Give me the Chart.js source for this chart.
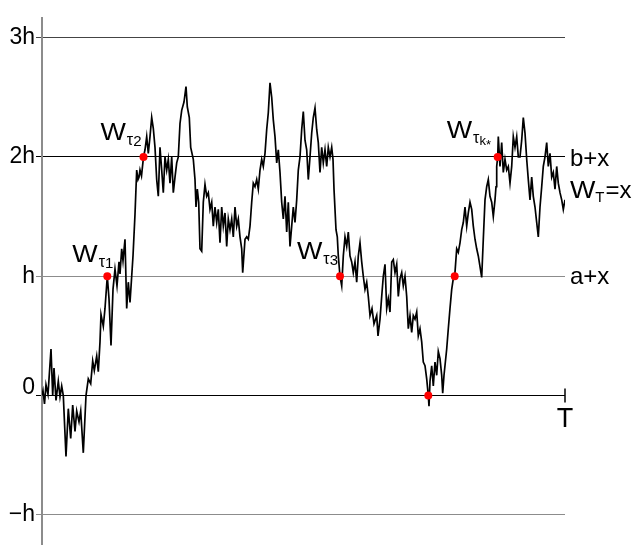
<!DOCTYPE html>
<html>
<head>
<meta charset="utf-8">
<title>Brownian path with hitting times</title>
<script src="https://cdn.jsdelivr.net/npm/chart.js@4.4.1/dist/chart.umd.min.js"></script>
<style>
  html, body { margin: 0; padding: 0; background: #fff; }
  #chart { display: block; }
</style>
</head>
<body>
<canvas id="chart" width="640" height="548"></canvas>
<script>
// path of W_t : time in steps (T = 523), value in units of h
const T = 523;
const times = [
  0, 1, 2.5, 4, 6, 9, 10.7, 12, 14, 16.3,
  18, 19.7, 21.3, 24, 26.3, 28.7, 30.7, 33, 34.7, 37,
  38.7, 41.3, 44, 46.3, 48.7, 50.7, 52.3, 54.7, 56.3, 58,
  59, 61.3, 63, 65.3, 67, 69, 71, 73, 75, 77,
  78, 79.7, 81, 83, 84.7, 86.3, 88, 89.7, 91, 93,
  94.7, 96, 97, 98, 99.5, 101.5, 103, 104.7, 106.3, 108,
  109.7, 111.3, 113, 114.7, 116.3, 118, 119.7, 121.3, 123, 124.7,
  126.3, 128, 129.7, 131.3, 133, 134.7, 136.3, 138, 139.7, 142,
  144, 145.3, 147.3, 148.7, 151.3, 153, 154, 155.3, 156.7, 158,
  159.7, 161.3, 163, 164.7, 166.3, 168, 169.7, 171.3, 173, 174.7,
  176.3, 178, 179.7, 181.3, 183, 184.7, 186.3, 188, 189.7, 191.3,
  193, 194.7, 196.3, 198, 199.7, 200.7, 203, 204.7, 206.3, 208,
  209.7, 211.3, 213, 214.7, 216.3, 218, 219.7, 221.3, 223, 224.7,
  226.3, 228, 229.7, 231.3, 233, 234.7, 236.3, 238, 239.7, 241.3,
  243, 244.7, 246.3, 248, 249.7, 251.3, 253, 254.7, 256.3, 258,
  259.7, 261.3, 263, 264.7, 266.3, 268, 269.7, 271.3, 273, 274.7,
  276.3, 278, 279.7, 281.3, 283, 284.7, 286.3, 288, 289.7, 291,
  292, 294, 295.3, 296.3, 298, 299.7, 301.3, 303, 304.7, 306.3,
  308, 309.7, 311.3, 313, 314.7, 316.3, 318, 319.7, 321.3, 323,
  324.7, 326.3, 328, 330, 332, 334.7, 336, 338, 339.7, 341.3,
  343, 344.7, 346.3, 348, 349.7, 351.3, 353, 354.7, 356.3, 358,
  359.7, 361.3, 363, 364.7, 366.3, 368, 369.7, 371.3, 373, 374.7,
  376.3, 378, 379.7, 381.3, 383, 384.7, 386.3, 387, 388, 389.7,
  391.3, 393, 394.7, 396.3, 398, 399.7, 400.7, 402, 404.7, 406.3,
  408, 409.7, 411.3, 412.7, 414.7, 416.3, 418, 419.7, 421.3, 423,
  424.7, 426.3, 428, 429.7, 431.3, 433, 434.7, 436.3, 438, 439.7,
  441.3, 443, 444.7, 446.3, 448, 449.7, 451.3, 453, 454, 454.7,
  455.7, 456.3, 458, 459.7, 461.3, 463, 464.7, 466.3, 468, 469.7,
  471.3, 473, 474.7, 476.3, 478, 479.7, 481.3, 483, 484.7, 486.3,
  488, 489.7, 491.3, 493, 494.7, 496.3, 498, 499.7, 501.3, 503,
  504.7, 506.3, 508, 509.7, 511.3, 513, 514.7, 516.3, 518, 519.7,
  521.3, 523
];
const values = [
  0, 0.04, -0.07, 0.09, 0.01, 0.39, 0, 0.23, -0.04, 0.12,
  -0.01, 0.08, 0, -0.51, -0.11, -0.36, -0.08, -0.30, -0.13, -0.22,
  -0.13, -0.48, 0, 0.14, 0.10, 0.29, 0.21, 0.33, 0.20, 0.45,
  0.68, 0.58, 0.73, 1.00, 0.81, 0.42, 0.89, 1.06, 0.92, 1.12,
  1.02, 1.23, 1.13, 1.31, 0.73, 0.95, 0.78, 1.00, 1.17, 1.52,
  1.89, 1.81, 1.83, 1.89, 1.84, 2.00, 2.06, 2.17, 2.03, 2.17,
  2.33, 2.24, 2.08, 1.81, 1.67, 2.08, 1.89, 1.70, 2.00, 1.89,
  1.98, 1.78, 2.00, 1.70, 1.83, 1.95, 2.00, 2.28, 2.39, 2.46,
  2.59, 2.42, 2.33, 2.08, 1.98, 1.81, 1.58, 1.73, 1.62, 1.23,
  1.21, 1.62, 1.77, 1.67, 1.70, 1.56, 1.62, 1.42, 1.58, 1.45,
  1.56, 1.28, 1.58, 1.42, 1.53, 1.25, 1.48, 1.39, 1.48, 1.33,
  1.58, 1.42, 1.48, 1.33, 1.23, 1.03, 1.31, 1.33, 1.31, 1.42,
  1.62, 1.78, 1.75, 1.81, 1.73, 1.89, 1.98, 1.92, 2.03, 2.23,
  2.37, 2.62, 2.50, 2.31, 2.17, 1.95, 2.06, 1.87, 1.62, 1.48,
  1.67, 1.37, 1.62, 1.25, 1.42, 1.58, 1.45, 1.64, 1.89, 2.00,
  2.23, 2.38, 2.14, 2.06, 1.81, 2.00, 2.20, 2.33, 2.41, 2.23,
  2.12, 1.87, 2.08, 1.95, 2.06, 1.92, 2.08, 2.00, 2.08, 1.98,
  1.73, 1.39, 1.33, 1.17, 1.00, 0.92, 1.17, 1.33, 1.25, 1.37,
  1.17, 1.12, 1.03, 1.12, 0.95, 1.17, 1.28, 1.12, 1.00, 0.89,
  0.95, 0.83, 0.67, 0.73, 0.60, 0.67, 0.50, 0.64, 0.83, 1.00,
  1.10, 0.73, 0.81, 0.70, 1.12, 1.14, 1.03, 1.10, 0.83, 0.98,
  1.03, 0.92, 1.00, 0.83, 0.56, 0.67, 0.53, 0.67, 0.64, 0.70,
  0.50, 0.56, 0.45, 0.28, 0.25, 0.14, 0.00, -0.09, 0.12, 0.25,
  0.08, 0.28, 0.17, 0.37, 0.31, 0.17, 0.02, 0.17, 0.39, 0.56,
  0.73, 0.89, 0.98, 1.00, 1.23, 1.20, 1.28, 1.39, 1.45, 1.58,
  1.42, 1.53, 1.62, 1.56, 1.42, 1.31, 1.23, 1.17, 1.08, 0.99,
  1.31, 1.64, 1.75, 1.81, 1.67, 1.62, 1.50, 1.64, 1.75, 1.92,
  2.00, 2.17, 1.92, 2.12, 1.87, 1.98, 1.89, 1.92, 1.78, 1.92,
  2.17, 2.08, 2.17, 2.00, 2.00, 2.14, 2.33, 2.20, 1.98, 1.81,
  1.64, 1.83, 1.67, 1.58, 1.45, 1.33, 1.58, 1.75, 1.92, 2.00,
  2.12, 1.92, 2.03, 1.83, 1.87, 1.73, 1.92, 1.78, 1.70, 1.64,
  1.56, 1.64
];

// hitting times (red dots) and the level hit
const hitTimes = [65.3, 101.5, 298, 386.3, 412.7, 455.7];
const hitLevels = [1, 2, 1, 0, 1, 2];
const hitIndex = ['1', '2', '3', '', '', 'k*'];

// horizontal levels
const levelTicks = [-1, 0, 1, 2, 3];
const levelLabels = ['\u2212h', '0', 'h', '2h', '3h'];
const levelColors = ['#8c8c8c', '#000000', '#8c8c8c', '#000000', '#444444'];

const FONT = '"Liberation Sans", Arial, Helvetica, sans-serif';

if (times.length !== values.length) console.error('length mismatch', times.length, values.length);

function drawW(ctx, x, y, idx) {
  ctx.font = '24px ' + FONT;
  ctx.save();
  ctx.translate(x, y);
  ctx.scale(1.12, 1);
  ctx.fillText('W', 0, 0);
  ctx.restore();
  x += ctx.measureText('W').width * 1.12 + 1;
  ctx.font = '16px ' + FONT;
  ctx.fillText('\u03c4', x, y + 5);
  x += ctx.measureText('\u03c4').width;
  if (idx === 'k*') {
    ctx.font = '13px ' + FONT;
    ctx.fillText('k', x, y + 7);
    x += ctx.measureText('k').width;
    ctx.fillText('*', x, y + 11);
  } else {
    ctx.font = '15px ' + FONT;
    ctx.fillText(idx, x, y + 6);
  }
}

const annotate = {
  id: 'annotate',
  afterDatasetsDraw(chart) {
    const { ctx, chartArea } = chart;
    const xs = chart.scales.x, ys = chart.scales.y;
    ctx.save();
    ctx.fillStyle = '#000';
    ctx.textAlign = 'left';
    ctx.textBaseline = 'alphabetic';

    // W_tau labels next to the hitting points
    const offs = [[-35, -14], [-43, -17], [-43, -17], null, null, [-51, -19]];
    hitTimes.forEach((t, i) => {
      if (!hitIndex[i]) return;
      const px = xs.getPixelForValue(t) + offs[i][0];
      const py = ys.getPixelForValue(hitLevels[i]) + offs[i][1];
      drawW(ctx, px, py, hitIndex[i]);
    });

    // right hand labels
    const rx = chartArea.right + 5;
    ctx.font = '24px ' + FONT;
    ctx.fillText('b+x', rx, ys.getPixelForValue(2) + 9);
    ctx.fillText('a+x', rx, ys.getPixelForValue(1) + 8);

    const yEnd = ys.getPixelForValue(values[values.length - 1]) - 2;
    ctx.save();
    ctx.translate(rx, yEnd);
    ctx.scale(1.12, 1);
    ctx.fillText('W', 0, 0);
    ctx.restore();
    let cx = rx + ctx.measureText('W').width * 1.12;
    ctx.font = '15px ' + FONT;
    ctx.fillText('T', cx, yEnd + 4);
    cx += ctx.measureText('T').width + 1;
    ctx.font = '24px ' + FONT;
    ctx.fillText('=x', cx, yEnd);

    // end of time axis
    const y0 = ys.getPixelForValue(0);
    const xT = xs.getPixelForValue(T);
    ctx.strokeStyle = '#000';
    ctx.lineWidth = 1.5;
    ctx.beginPath();
    ctx.moveTo(xT, y0 - 7);
    ctx.lineTo(xT, y0 + 7);
    ctx.stroke();
    ctx.font = '27px ' + FONT;
    ctx.textAlign = 'center';
    ctx.fillText('T', xT, y0 + 31);
    ctx.restore();
  }
};

const ctx = document.getElementById('chart').getContext('2d');
const chart = new Chart(ctx, {
  type: 'line',
  data: {
    datasets: [
      {
        type: 'scatter',
        data: hitTimes.map((t, i) => ({ x: t, y: hitLevels[i] })),
        backgroundColor: '#ff0000',
        borderWidth: 0,
        pointRadius: 4,
        order: 0
      },
      {
        data: times.map((t, i) => ({ x: t, y: values[i] })),
        borderColor: '#000000',
        borderWidth: 1.7,
        pointRadius: 0,
        tension: 0,
        fill: false,
        order: 1
      }
    ]
  },
  options: {
    responsive: false,
    animation: false,
    layout: { padding: { left: 0, right: 75, top: 18, bottom: 2 } },
    plugins: { legend: { display: false }, tooltip: { enabled: false } },
    scales: {
      x: { type: 'linear', min: 0, max: T, display: false },
      y: {
        type: 'linear',
        min: -1.244,
        max: 3.164,
        afterBuildTicks: s => { s.ticks = levelTicks.map(v => ({ value: v })); },
        afterFit: s => { s.width = 42; s.paddingTop = 0; s.paddingBottom = 0; },
        ticks: {
          color: '#000',
          padding: 1,
          font: { family: FONT, size: 23, lineHeight: 0.7 },
          callback: (v, i) => levelLabels[i] === '0' ? ['0', ''] : levelLabels[i]
        },
        grid: {
          color: c => levelColors[c.index],
          lineWidth: 1,
          tickLength: 6
        },
        border: { color: '#8c8c8c', width: 2 }
      }
    }
  },
  plugins: [annotate]
});
</script>
</body>
</html>
